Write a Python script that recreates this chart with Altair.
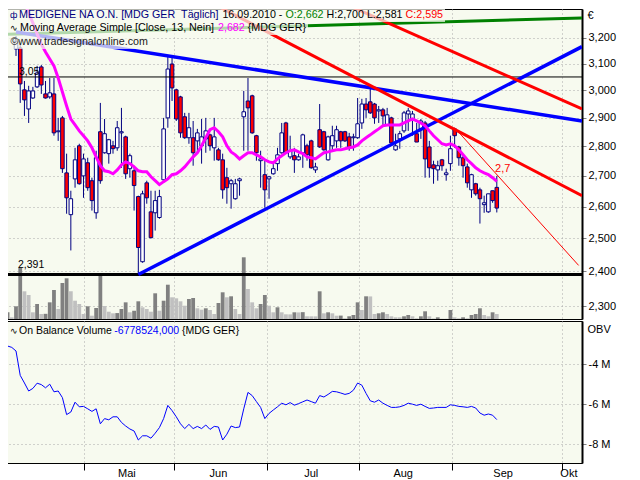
import altair as alt
import pandas as pd

# ---------------- data ----------------
# daily candles, trading-day index 0..114 (prices in EUR)
open_ = [3.157, 3.161, 3.002, 2.932, 2.972, 3.013, 3.088, 2.987, 2.976, 2.987,
         2.851, 2.900, 2.710, 2.574, 2.690, 2.802, 2.700, 2.744, 2.684, 2.580,
         2.851, 2.778, 2.775, 2.802, 2.795, 2.847, 2.833, 2.724, 2.717, 2.632,
         2.429, 2.677, 2.583, 2.580, 2.565, 2.687, 2.900, 3.099, 3.002, 2.976,
         2.904, 2.830, 2.830, 2.819, 2.802, 2.826, 2.840, 2.795, 2.788, 2.754,
         2.694, 2.674, 2.625, 2.684, 2.904, 2.961, 2.980, 2.837, 2.751, 2.704,
         2.690, 2.707, 2.741, 2.778, 2.882, 2.764, 2.768, 2.754, 2.778, 2.802,
         2.819, 2.720, 2.858, 2.851, 2.754, 2.802, 2.819, 2.851, 2.851, 2.833,
         2.830, 2.830, 2.882, 2.950, 2.958, 2.950, 2.925, 2.929, 2.875, 2.900,
         2.788, 2.826, 2.854, 2.914, 2.896, 2.844, 2.861, 2.882, 2.798, 2.737,
         2.720, 2.754, 2.704, 2.741, 2.861, 2.798, 2.761, 2.730, 2.654, 2.674,
         2.654, 2.606, 2.583, 2.651, 2.662]
high = [3.208, 3.180, 3.035, 3.017, 3.013, 3.092, 3.095, 3.035, 3.046, 3.046,
        2.900, 2.907, 2.775, 2.651, 2.795, 2.809, 2.775, 2.761, 2.694, 2.785,
        2.954, 2.896, 2.826, 2.819, 2.889, 2.936, 2.837, 2.775, 2.734, 2.635,
        2.651, 2.684, 2.651, 2.651, 2.654, 2.900, 3.130, 3.130, 3.006, 2.980,
        2.918, 2.918, 2.889, 2.861, 2.896, 2.900, 2.844, 2.900, 2.795, 2.775,
        2.727, 2.690, 2.690, 2.694, 2.998, 3.046, 2.984, 2.840, 2.785, 2.751,
        2.700, 2.744, 2.795, 2.882, 2.886, 2.837, 2.795, 2.775, 2.844, 2.809,
        2.823, 2.744, 2.950, 2.854, 2.837, 2.872, 2.872, 2.854, 2.854, 2.847,
        2.844, 2.972, 2.969, 2.972, 3.013, 2.954, 2.943, 2.936, 2.936, 2.904,
        2.844, 2.854, 2.925, 2.936, 2.925, 2.882, 2.896, 2.889, 2.819, 2.751,
        2.751, 2.757, 2.724, 2.837, 2.865, 2.802, 2.768, 2.741, 2.707, 2.677,
        2.661, 2.635, 2.641, 2.651, 2.700]
low = [3.130, 2.954, 2.907, 2.882, 2.969, 3.009, 2.987, 2.970, 2.969, 2.837,
       2.819, 2.710, 2.577, 2.463, 2.661, 2.671, 2.628, 2.651, 2.587, 2.561,
       2.674, 2.775, 2.741, 2.775, 2.785, 2.727, 2.690, 2.694, 2.587, 2.391,
       2.426, 2.609, 2.500, 2.524, 2.561, 2.684, 2.865, 2.961, 2.889, 2.830,
       2.826, 2.809, 2.734, 2.775, 2.741, 2.778, 2.785, 2.751, 2.751, 2.625,
       2.609, 2.593, 2.622, 2.635, 2.785, 2.785, 2.844, 2.751, 2.661, 2.596,
       2.625, 2.704, 2.717, 2.775, 2.775, 2.757, 2.710, 2.751, 2.727, 2.751,
       2.724, 2.710, 2.795, 2.785, 2.751, 2.785, 2.795, 2.795, 2.815, 2.785,
       2.785, 2.826, 2.861, 2.900, 2.914, 2.879, 2.882, 2.872, 2.872, 2.809,
       2.785, 2.792, 2.847, 2.854, 2.837, 2.815, 2.826, 2.694, 2.694, 2.674,
       2.684, 2.717, 2.684, 2.717, 2.795, 2.734, 2.694, 2.661, 2.628, 2.635,
       2.546, 2.580, 2.580, 2.612, 2.581]
close = [3.188, 3.024, 2.965, 2.998, 2.998, 3.065, 3.020, 2.972, 2.991, 2.847,
         2.854, 2.724, 2.628, 2.625, 2.754, 2.674, 2.757, 2.661, 2.619, 2.761,
         2.684, 2.844, 2.823, 2.792, 2.865, 2.851, 2.707, 2.768, 2.668, 2.472,
         2.641, 2.628, 2.502, 2.619, 2.632, 2.861, 3.080, 3.009, 2.896, 2.847,
         2.830, 2.865, 2.778, 2.847, 2.833, 2.854, 2.802, 2.833, 2.754, 2.654,
         2.661, 2.684, 2.674, 2.690, 2.922, 2.936, 2.847, 2.778, 2.757, 2.654,
         2.697, 2.724, 2.771, 2.847, 2.778, 2.785, 2.754, 2.764, 2.840, 2.771,
         2.727, 2.730, 2.798, 2.788, 2.833, 2.837, 2.858, 2.819, 2.819, 2.798,
         2.833, 2.879, 2.950, 2.929, 2.918, 2.900, 2.929, 2.907, 2.911, 2.812,
         2.802, 2.844, 2.918, 2.925, 2.914, 2.815, 2.889, 2.757, 2.727, 2.724,
         2.734, 2.734, 2.710, 2.792, 2.837, 2.761, 2.734, 2.677, 2.704, 2.641,
         2.625, 2.612, 2.641, 2.619, 2.595]
# 13-day simple moving average as drawn (index 0..114)
ma13 = [3.433, 3.387, 3.345, 3.300, 3.260, 3.216, 3.176, 3.145, 3.118, 3.092,
        3.046, 2.994, 2.943, 2.896, 2.875, 2.854, 2.837, 2.819, 2.795, 2.764,
        2.734, 2.717, 2.714, 2.707, 2.720, 2.737, 2.747, 2.741, 2.730, 2.717,
        2.714, 2.714, 2.697, 2.684, 2.671, 2.681, 2.690, 2.704, 2.707, 2.717,
        2.730, 2.747, 2.764, 2.778, 2.802, 2.830, 2.858, 2.865, 2.851, 2.833,
        2.802, 2.781, 2.771, 2.757, 2.768, 2.778, 2.778, 2.771, 2.764, 2.754,
        2.747, 2.744, 2.757, 2.768, 2.778, 2.785, 2.788, 2.781, 2.775, 2.764,
        2.761, 2.757, 2.768, 2.778, 2.781, 2.785, 2.788, 2.788, 2.792, 2.795,
        2.798, 2.805, 2.819, 2.830, 2.840, 2.851, 2.861, 2.872, 2.875, 2.875,
        2.875, 2.875, 2.882, 2.889, 2.896, 2.889, 2.882, 2.872, 2.854, 2.837,
        2.823, 2.809, 2.805, 2.809, 2.802, 2.788, 2.771, 2.754, 2.741, 2.727,
        2.717, 2.710, 2.704, 2.694, 2.682]
# volume (thousand shares) and on-balance volume (million), index -2..114
volume = [180, 45, 343, 1396, 748, 648, 181, 405, 135, 140,
          450, 783, 270, 972, 1099, 748, 494, 405, 135, 343,
          89, 297, 1169, 351, 197, 154, 160, 270, 450, 181,
          224, 478, 316, 270, 197, 694, 224, 494, 926, 586,
          559, 478, 359, 540, 567, 289, 251, 289, 243, 135,
          432, 721, 586, 613, 270, 135, 1666, 810, 450, 289,
          405, 648, 359, 181, 316, 181, 127, 125, 181, 178,
          185, 73, 72, 71, 748, 154, 181, 154, 89, 92,
          19, 73, 108, 450, 243, 613, 610, 135, 154, 181,
          135, 73, 46, 45, 73, 108, 73, 19, 73, 208,
          73, 14, 46, 8, 8, 243, 46, 19, 46, 19,
          108, 135, 289, 108, 73, 181, 135]
volume_rising = [1, 0, 1, 1, 0, 0, 0, 1, 0, 1,
                 1, 1, 0, 1, 1, 0, 0, 0, 0, 1,
                 0, 1, 1, 0, 0, 0, 1, 1, 1, 0,
                 1, 1, 0, 0, 0, 1, 0, 1, 1, 0,
                 0, 0, 0, 1, 1, 0, 0, 1, 0, 0,
                 1, 1, 0, 1, 0, 0, 1, 0, 0, 0,
                 1, 1, 0, 0, 1, 0, 0, 0, 1, 0,
                 1, 0, 0, 0, 1, 0, 1, 0, 0, 1,
                 0, 1, 1, 1, 0, 1, 0, 0, 1, 1,
                 0, 0, 0, 0, 1, 1, 0, 0, 1, 1,
                 0, 0, 1, 0, 0, 1, 0, 0, 1, 0,
                 1, 1, 1, 0, 0, 1, 0]
obv = [-3.10, -3.17, -3.35, -4.57, -4.95, -5.35, -5.22, -4.96, -5.03, -5.19,
       -5.01, -5.39, -5.35, -5.68, -6.53, -6.40, -5.91, -6.14, -6.12, -6.24,
       -6.37, -6.24, -6.99, -6.73, -6.79, -6.64, -6.64, -6.92, -7.10, -7.25,
       -7.35, -7.80, -7.59, -7.59, -7.71, -7.46, -7.18, -6.73, -6.07, -6.33,
       -6.64, -6.99, -7.23, -7.02, -7.23, -7.12, -7.23, -7.05, -7.27, -7.12,
       -7.15, -7.80, -7.51, -7.10, -7.18, -7.15, -6.24, -5.42, -5.58, -5.88,
       -6.17, -6.73, -6.47, -6.30, -6.14, -5.96, -6.04, -5.93, -6.06, -5.98,
       -5.89, -5.80, -5.88, -5.96, -5.58, -5.65, -5.52, -5.37, -5.39, -5.45,
       -5.52, -5.47, -5.31, -4.95, -5.06, -5.47, -5.84, -5.91, -5.80, -5.96,
       -6.07, -6.17, -6.17, -6.14, -6.07, -5.96, -6.01, -6.07, -6.01, -6.12,
       -6.22, -6.20, -6.17, -6.17, -6.17, -6.04, -6.07, -6.12, -6.14, -6.17,
       -6.12, -6.20, -6.45, -6.56, -6.50, -6.56, -6.78]
vol_first_day = -2

# drawn trend lines: start/end (trading-day index, price)
trend_names = ["green", "blue_down", "blue_up", "red_upper", "red_lower", "red_thin"]
trend_day0 = [-2.61, 0, 29, 76, 45, 104]
trend_price0 = [3.214, 3.224, 2.391, 3.353, 3.354, 2.865]
trend_day1 = [134.2, 134.2, 134.2, 134.2, 134.2, 133.4]
trend_price1 = [3.280, 2.889, 3.166, 2.932, 2.635, 2.418]
trend_colors = ["#008000", "#0000FF", "#0000FF", "#FF0000", "#FF0000", "#FF0000"]
trend_widths = [3, 3.5, 3.5, 3, 3, 1]

# horizontal levels
level_price = [3.05, 2.391]
level_width = [1, 3]
level_label = ["3,05", "2,391"]
level_label_day = [0.7, 0.47]
level_label_price = [3.069, 2.418]

# axes
price_ticks = [2.3, 2.4, 2.5, 2.6, 2.7, 2.8, 2.9, 3.0, 3.1, 3.2]
obv_ticks = [-8, -6, -4]
month_tick_days = [16.2, 37.4, 59.4, 81.3, 103.3, 129.4]
month_names = ["Mai", "Jun", "Jul", "Aug", "Sep", "Okt"]
month_label_days = [26.3, 48.0, 70.0, 91.8, 115.5, 131.1]

# ---------------- frames ----------------
days = list(range(len(open_)))
assert len(high) == len(low) == len(close) == len(ma13) == len(days)
assert len(volume) == len(volume_rising) == len(obv)

candles = pd.DataFrame({"day": days, "open": open_, "high": high, "low": low, "close": close})
candles["fill"] = ["#FF0000" if c < o else "#FFFFFF" for o, c in zip(open_, close)]
ma_df = pd.DataFrame({"day": days, "ma": ma13})
vdays = [vol_first_day + k for k in range(len(volume))]
vol_df = pd.DataFrame({"day": vdays, "volume": volume,
                       "fill": ["#808080" if r else "#C0C0C0" for r in volume_rising]})
obv_df = pd.DataFrame({"day": vdays, "obv": obv})
rows = []
for n, d0, p0, d1, p1, c, w in zip(trend_names, trend_day0, trend_price0, trend_day1,
                                    trend_price1, trend_colors, trend_widths):
    rows.append({"name": n, "day": d0, "price": p0, "color": c, "w": w})
    rows.append({"name": n, "day": d1, "price": p1, "color": c, "w": w})
trend_df = pd.DataFrame(rows)
level_df = pd.DataFrame({"price": level_price, "w": level_width})
level_lab_df = pd.DataFrame({"t": level_label, "day": level_label_day, "price": level_label_price})
month_df = pd.DataFrame({"name": month_names, "day": month_label_days})
last_df = pd.DataFrame({"t": ["2,7"], "day": [113.6], "price": [2.724]})

# ---------------- styling ----------------
FONT = "Liberation Sans"
BG = "#F7FAEF"
GRID = "#A8A8A8"
W, H_TOP, H_BOT = 577, 310, 142
HS = 10.7  # header font size

xscale = alt.Scale(domain=[-2.61, 134.2], nice=False, zero=False)
yscale = alt.Scale(type="log", domain=[2.2635, 3.3164], nice=False)
obv_scale = alt.Scale(domain=[-8.95, -1.85], nice=False, zero=False)

x_top_axis = alt.Axis(values=month_tick_days, labels=False, ticks=False, domain=False,
                      grid=True, gridColor=GRID, gridDash=[1, 3], title=None)
x_bot_axis = alt.Axis(values=month_tick_days, labels=False, ticks=True, tickSize=7,
                      tickColor="black", domain=False, grid=True, gridColor=GRID,
                      gridDash=[1, 3], title=None)
price_axis = alt.Axis(orient="right", values=price_ticks,
                      labelExpr="replace(format(datum.value, '.3f'), '.', ',')",
                      tickSize=4, tickColor="#808080", domain=True, domainColor="black",
                      domainWidth=2, grid=True, gridColor=GRID, gridDash=[1, 3],
                      labelColor="black", labelFont=FONT, labelFontSize=11, labelPadding=2,
                      labelOverlap=False, title="€", titleAngle=0, titleAlign="left",
                      titleBaseline="middle", titleX=5, titleY=6, titleFont=FONT,
                      titleFontSize=11, titleFontWeight="normal", titleColor="black")
obv_axis = alt.Axis(orient="right", values=obv_ticks,
                    labelExpr="(datum.value < 0 ? '-' : '') + abs(datum.value) + ' M'",
                    tickSize=4, tickColor="#808080", domain=True, domainColor="black",
                    domainWidth=2, grid=True, gridColor=GRID, gridDash=[1, 3],
                    labelColor="black", labelFont=FONT, labelFontSize=11, labelPadding=2,
                    labelOverlap=False, title="OBV", titleAngle=0, titleAlign="left",
                    titleBaseline="middle", titleX=5, titleY=8, titleFont=FONT,
                    titleFontSize=11, titleFontWeight="normal", titleColor="black")


def X(field):
    return alt.X(field, type="quantitative", scale=xscale, axis=x_top_axis)


def Y(field):
    return alt.Y(field, type="quantitative", scale=yscale, axis=price_axis)


def label(text, px, py, color="black", size=HS):
    return alt.Chart(pd.DataFrame({"t": [text]})).mark_text(
        align="left", baseline="middle", font=FONT, fontSize=size, color=color
    ).encode(x=alt.value(px), y=alt.value(py), text="t:N")


def box(x1, x2, y1, y2):
    return alt.Chart(pd.DataFrame({"a": [0]})).mark_rect(fill=BG, opacity=0.72).encode(
        x=alt.value(x1), x2=alt.value(x2), y=alt.value(y1), y2=alt.value(y2))


# ---------------- top panel ----------------
vol_chart = alt.Chart(vol_df).transform_calculate(
    x1="datum.day - 0.45", x2="datum.day + 0.45"
).mark_rect().encode(
    x=X("x1"), x2="x2:Q",
    y=alt.Y("volume:Q", scale=alt.Scale(domain=[0, 8370]), axis=None),
    y2=alt.datum(0),
    color=alt.Color("fill:N", scale=None),
)

wicks = alt.Chart(candles).mark_rule(color="#000080", strokeWidth=1).encode(
    x=X("day"), y=Y("low"), y2="high:Q")
bodies = alt.Chart(candles).transform_calculate(
    x1="datum.day - 0.42", x2="datum.day + 0.42"
).mark_rect(stroke="#000080", strokeWidth=1).encode(
    x=X("x1"), x2="x2:Q", y=Y("open"), y2="close:Q",
    color=alt.Color("fill:N", scale=None))
levels = alt.Chart(level_df).mark_rule(color="black").encode(
    y=Y("price"), strokeWidth=alt.StrokeWidth("w:Q", scale=None))
trends = alt.Chart(trend_df).mark_line(clip=True).encode(
    x=X("day"), y=Y("price"), detail="name:N",
    color=alt.Color("color:N", scale=None),
    strokeWidth=alt.StrokeWidth("w:Q", scale=None))
ma_line = alt.Chart(ma_df).mark_line(color="#FF00FF", strokeWidth=3, clip=True).encode(
    x=X("day"), y=Y("ma"))
level_text = alt.Chart(level_lab_df).mark_text(
    align="left", baseline="middle", font=FONT, fontSize=10.5, color="black"
).encode(x=X("day"), y=Y("price"), text="t:N")
last_text = alt.Chart(last_df).mark_text(
    align="left", baseline="middle", font=FONT, fontSize=11, color="#FF0000"
).encode(x=X("day"), y=Y("price"), text="t:N")

header = [
    box(0, 440, 0, 13), box(0, 303, 13, 26), box(0, 146, 26, 40),
    label("ф", 5, 6, "#000080", size=9),
    label("MEDIGENE NA O.N. [MDG GER\u00a0\u00a0Täglich]", 14, 6, "#000080"),
    label("16.09.2010 -", 217.4, 6),
    label("O:2,662", 280.5, 6, "#008000"),
    label("H:2,700 L:2,581", 321.5, 6),
    label("C:2,595", 400.6, 6, "#FF0000"),
    label("∿", 4.5, 19, size=9),
    label("Moving Average Simple [Close, 13, Nein]", 15, 19),
    label("2,682", 213, 19, "#FF00FF"),
    label("{MDG GER}", 242.8, 19),
    label("©www.tradesignalonline.com", 5.5, 33, "#202020"),
]

price_layer = alt.layer(wicks, bodies, levels, trends, ma_line, level_text, last_text, *header)
top = alt.layer(vol_chart, price_layer).resolve_scale(y="independent").properties(
    width=W, height=H_TOP)

# ---------------- bottom panel ----------------
obv_line = alt.Chart(obv_df).mark_line(color="#0000FF", strokeWidth=1).encode(
    x=alt.X("day:Q", scale=xscale, axis=x_bot_axis),
    y=alt.Y("obv:Q", scale=obv_scale, axis=obv_axis))
months = alt.Chart(month_df).mark_text(
    baseline="middle", font=FONT, fontSize=11, color="black"
).encode(x=alt.X("day:Q", scale=xscale, axis=x_bot_axis), y=alt.value(153), text="name:N")
obv_legend = [
    label("∿", 4.5, 10, size=9),
    label("On Balance Volume", 14, 10, size=10.5),
    label("-6778524,000", 109.3, 10, "#0000FF", size=10.5),
    label("{MDG GER}", 177, 10, size=10.5),
]
bottom = alt.layer(obv_line, months, *obv_legend).properties(width=W, height=H_BOT)

chart = alt.vconcat(top, bottom, spacing=0).properties(
    padding={"left": -5, "top": 0, "right": 2, "bottom": 0},
    background="white",
).configure_view(stroke="black", strokeWidth=1, fill=BG)

chart.save("out.html", embed_options={"renderer": "svg", "actions": False})
